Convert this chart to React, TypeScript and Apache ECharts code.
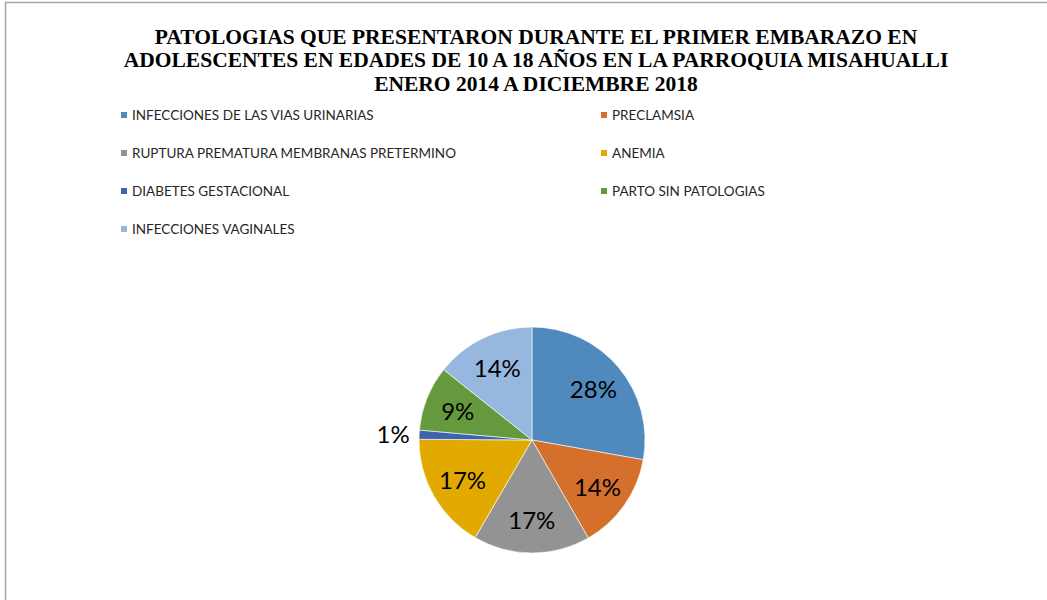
import React, { useEffect, useRef } from "react";
import * as echarts from "echarts";

const TITLE_LINES = [
  "PATOLOGIAS QUE PRESENTARON DURANTE EL PRIMER EMBARAZO EN",
  "ADOLESCENTES EN EDADES DE 10 A 18 AÑOS EN LA PARROQUIA MISAHUALLI",
  "ENERO 2014 A DICIEMBRE 2018",
];

const categories = [
  "INFECCIONES DE LAS VIAS URINARIAS",
  "PRECLAMSIA",
  "RUPTURA PREMATURA MEMBRANAS PRETERMINO",
  "ANEMIA",
  "DIABETES GESTACIONAL",
  "PARTO SIN PATOLOGIAS",
  "INFECCIONES VAGINALES",
];

const percents = [27.8, 13.9, 16.7, 16.7, 1.3, 9.3, 14.3];

const colors = ["#4F89BD", "#D46F2C", "#939393", "#E2AA00", "#3E64AE", "#64993E", "#97B8DE"];

const leftLegend = [categories[0], categories[2], categories[4], categories[6]];
const rightLegend = [categories[1], categories[3], categories[5]];

export default function App() {
  const ref = useRef<HTMLDivElement>(null);

  useEffect(() => {
    if (!ref.current) return;
    const chart = echarts.init(ref.current, undefined, { renderer: "svg" });
    const total = percents.reduce((a, b) => a + b, 0);
    const pct = (v: number) => Math.round((v / total) * 100) + "%";
    const center = [532, 440];
    const labelFont = {
      fontFamily: "Lato",
      fontSize: 24,
      color: "#000",
    };

    const baseData = categories.map((name, i) => ({ name, value: percents[i] }));

    const legendCommon = {
      orient: "vertical" as const,
      itemWidth: 8,
      itemHeight: 8,
      itemGap: 24,
      icon: "rect",
      selectedMode: false,
      padding: 0,
      textStyle: {
        fontFamily: "Lato",
        fontSize: 13.5,
        lineHeight: 14,
        color: "#262626",
        padding: [0, 0, 0, -1],
      },
      top: 108,
    };

    chart.setOption({
      animation: false,
      color: colors,
      title: {
        text: TITLE_LINES.join("\n"),
        left: 531,
        top: 20,
        textAlign: "center",
        textStyle: {
          fontFamily: "Liberation Serif",
          fontWeight: "bold",
          fontSize: 21.5,
          lineHeight: 23.5,
          color: "#000",
        },
      },
      legend: [
        { ...legendCommon, left: 119, data: leftLegend },
        { ...legendCommon, left: 599, data: rightLegend },
      ],
      graphic: [
        { type: "line", shape: { x1: 5, y1: 2.5, x2: 1047, y2: 2.5 }, style: { stroke: "#a6a6a6", lineWidth: 1.5 } },
        { type: "line", shape: { x1: 5.5, y1: 2, x2: 5.5, y2: 600 }, style: { stroke: "#a6a6a6", lineWidth: 1.5 } },
      ],
      series: [
        {
          type: "pie",
          center,
          radius: [0, 113],
          startAngle: 90,
          clockwise: true,
          silent: true,
          itemStyle: { borderColor: "#ffffff", borderWidth: 0.6 },
          label: { show: false },
          labelLine: { show: false },
          data: baseData,
        },
        {
          type: "pie",
          center,
          radius: [0, 154],
          startAngle: 90,
          clockwise: true,
          silent: true,
          legendHoverLink: false,
          itemStyle: { color: "rgba(0,0,0,0)" },
          label: {
            show: true,
            position: "inside",
            formatter: (p: any) => pct(p.value),
            ...labelFont,
          },
          labelLine: { show: false },
          data: baseData.map((d) => ({
            ...d,
            label: { show: d.value > 5 },
          })),
        },
        {
          type: "pie",
          center,
          radius: [0, 272],
          startAngle: 90,
          clockwise: true,
          silent: true,
          legendHoverLink: false,
          itemStyle: { color: "rgba(0,0,0,0)" },
          label: {
            show: true,
            position: "inside",
            formatter: (p: any) => pct(p.value),
            ...labelFont,
          },
          labelLine: { show: false },
          data: baseData.map((d) => ({
            ...d,
            label: { show: d.value <= 5 },
          })),
        },
      ],
    });
    return () => chart.dispose();
  }, []);

  return (
    <div
      ref={ref}
      style={{ position: "fixed", left: 0, top: 0, width: 1047, height: 600, background: "#fff" }}
    />
  );
}
